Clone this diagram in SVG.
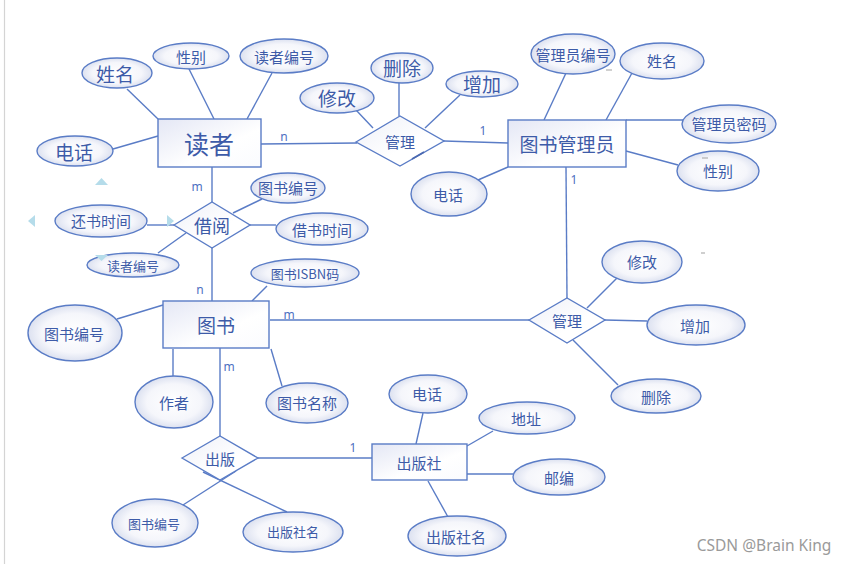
<svg xmlns="http://www.w3.org/2000/svg" width="846" height="564" viewBox="0 0 846 564">
<defs>
<radialGradient id="eg" cx="50%" cy="50%" r="50%">
<stop offset="0" stop-color="#ffffff"/>
<stop offset="0.7" stop-color="#f5f6fb"/>
<stop offset="1" stop-color="#dce1f0"/>
</radialGradient>
<linearGradient id="rg" x1="0" y1="0" x2="1" y2="1">
<stop offset="0" stop-color="#e4e7f5"/>
<stop offset="0.6" stop-color="#ffffff"/>
<stop offset="1" stop-color="#fafbfe"/>
</linearGradient>
<linearGradient id="dg" x1="0" y1="0" x2="1" y2="1">
<stop offset="0" stop-color="#eef0f8"/>
<stop offset="0.6" stop-color="#ffffff"/>
</linearGradient>
</defs>
<style>
.e{fill:url(#eg);stroke:#5a7cc6;stroke-width:1.4}
.r{fill:url(#rg);stroke:#5a7cc6;stroke-width:1.4}
.d{fill:url(#dg);stroke:#5a7cc6;stroke-width:1.4}
.l{stroke:#5a7cc6;stroke-width:1.4;fill:none}
text{font-family:"Noto Sans CJK SC","Noto Sans",sans-serif;fill:#3d5ba8;text-anchor:middle;dominant-baseline:central}
text.c{font-family:"Noto Sans","DejaVu Sans",sans-serif;font-size:12px;fill:#4d6fc2}
.tri{fill:#b5dcea}
.dash{stroke:#b0b0b0;stroke-width:1.2}
</style>
<rect width="846" height="564" fill="#ffffff"/>
<line x1="4.5" y1="0" x2="4.5" y2="564" stroke="#d4d4d4" stroke-width="1.2"/>

<g id="connectors">
<line class="l" x1="127" y1="89" x2="158" y2="119"/>
<line class="l" x1="189" y1="69" x2="214" y2="119"/>
<line class="l" x1="272" y1="73" x2="247" y2="119"/>
<line class="l" x1="113" y1="149" x2="158" y2="136"/>
<line class="l" x1="261" y1="144" x2="357" y2="143"/>
<line class="l" x1="399" y1="83" x2="399" y2="116"/>
<line class="l" x1="356" y1="110" x2="373" y2="128"/>
<line class="l" x1="460" y1="95" x2="425" y2="128"/>
<line class="l" x1="444" y1="141" x2="508" y2="143"/>
<line class="l" x1="566" y1="73" x2="544" y2="120"/>
<line class="l" x1="632" y1="73" x2="606" y2="120"/>
<line class="l" x1="626" y1="120" x2="683" y2="120"/>
<line class="l" x1="626" y1="151" x2="678" y2="165"/>
<line class="l" x1="478" y1="180" x2="508" y2="167"/>
<line class="l" x1="566" y1="167" x2="567" y2="298"/>
<line class="l" x1="212" y1="167" x2="212" y2="202"/>
<line class="l" x1="262" y1="199" x2="233" y2="213"/>
<line class="l" x1="250" y1="225" x2="276" y2="225"/>
<line class="l" x1="147" y1="225" x2="174" y2="225"/>
<line class="l" x1="158" y1="253" x2="186" y2="233"/>
<line class="l" x1="212" y1="248" x2="212" y2="301"/>
<line class="l" x1="267" y1="286" x2="252" y2="301"/>
<line class="l" x1="117" y1="319" x2="163" y2="305"/>
<line class="l" x1="270" y1="320" x2="529" y2="320"/>
<line class="l" x1="173" y1="349" x2="173" y2="377"/>
<line class="l" x1="271" y1="349" x2="282" y2="386"/>
<line class="l" x1="220" y1="348" x2="220" y2="436"/>
<line class="l" x1="617" y1="278" x2="587" y2="308"/>
<line class="l" x1="605" y1="320" x2="647" y2="321"/>
<line class="l" x1="573" y1="340" x2="618" y2="385"/>
<line class="l" x1="258" y1="458" x2="372" y2="458"/>
<line class="l" x1="183" y1="505" x2="236" y2="471"/>
<line class="l" x1="287" y1="512" x2="203" y2="472"/>
<line class="l" x1="423" y1="413" x2="416" y2="444"/>
<line class="l" x1="493" y1="431" x2="467" y2="446"/>
<line class="l" x1="467" y1="474" x2="513" y2="474"/>
<line class="l" x1="428" y1="481" x2="448" y2="517"/>
<text class="c" x="284" y="136">n</text>
<text class="c" x="483" y="130">1</text>
<text class="c" x="197" y="186">m</text>
<text class="c" x="574" y="179">1</text>
<text class="c" x="200" y="289">n</text>
<text class="c" x="289" y="314">m</text>
<text class="c" x="229" y="366">m</text>
<text class="c" x="353" y="447">1</text>
</g>

<g id="reader">
<rect class="r" x="158" y="119" width="103" height="48"/>
<text x="209" y="143" font-size="25">读者</text>
</g>
<g id="reader-name"><ellipse class="e" cx="117" cy="73" rx="35" ry="15"/><text x="115" y="73" font-size="19">姓名</text></g>
<g id="reader-sex"><ellipse class="e" cx="191" cy="56" rx="38" ry="13"/><text x="191" y="56" font-size="15">性别</text></g>
<g id="reader-no"><ellipse class="e" cx="284" cy="56" rx="44" ry="17"/><text x="284" y="56" font-size="15">读者编号</text></g>
<g id="reader-tel"><ellipse class="e" cx="75" cy="151" rx="38" ry="15"/><text x="74" y="151" font-size="19">电话</text></g>

<g id="manage1">
<polygon class="d" points="356,142 400,116 444,141 400,166"/>
<text x="400" y="141" font-size="15">管理</text>
</g>
<g id="m1-del"><ellipse class="e" cx="402" cy="68" rx="31" ry="15"/><text x="402" y="67" font-size="19">删除</text></g>
<g id="m1-mod"><ellipse class="e" cx="337" cy="98" rx="37" ry="15"/><text x="337" y="97" font-size="19">修改</text></g>
<g id="m1-add"><ellipse class="e" cx="482" cy="84" rx="36" ry="13"/><text x="482" y="83" font-size="19">增加</text></g>

<g id="librarian">
<rect class="r" x="508" y="120" width="118" height="47"/>
<text x="567" y="143" font-size="19">图书管理员</text>
</g>
<g id="lib-no"><ellipse class="e" cx="573" cy="54" rx="42" ry="20"/><text x="573" y="54" font-size="15">管理员编号</text></g>
<g id="lib-name"><ellipse class="e" cx="662" cy="61" rx="42" ry="18"/><text x="662" y="60" font-size="15">姓名</text></g>
<g id="lib-pwd"><ellipse class="e" cx="729" cy="124" rx="47" ry="19"/><text x="729" y="123" font-size="15">管理员密码</text></g>
<g id="lib-sex"><ellipse class="e" cx="718" cy="171" rx="41" ry="20"/><text x="718" y="170" font-size="15">性别</text></g>
<g id="lib-tel"><ellipse class="e" cx="449" cy="194" rx="38" ry="22"/><text x="448" y="194" font-size="15">电话</text></g>

<g id="borrow">
<polygon class="d" points="174,225 212,202 250,225 212,248"/>
<text x="212" y="225" font-size="18">借阅</text>
</g>
<g id="b-bookno"><ellipse class="e" cx="288" cy="188" rx="37" ry="15"/><text x="288" y="187" font-size="15">图书编号</text></g>
<g id="b-out"><ellipse class="e" cx="322" cy="229" rx="46" ry="16"/><text x="322" y="229" font-size="15">借书时间</text></g>
<g id="b-ret"><ellipse class="e" cx="101" cy="221" rx="46" ry="16"/><text x="101" y="220" font-size="15">还书时间</text></g>
<g id="b-readerno"><ellipse class="e" cx="133" cy="265" rx="46" ry="12"/><text x="133" y="265" font-size="13">读者编号</text></g>

<g id="book">
<rect class="r" x="163" y="301" width="106" height="47"/>
<text x="216" y="324" font-size="19">图书</text>
</g>
<g id="book-isbn"><ellipse class="e" cx="305" cy="273" rx="54" ry="14"/><text x="305" y="273" font-size="13">图书ISBN码</text></g>
<g id="book-no"><ellipse class="e" cx="75" cy="333" rx="47" ry="28"/><text x="74" y="333" font-size="15">图书编号</text></g>
<g id="book-author"><ellipse class="e" cx="174" cy="402" rx="39" ry="26"/><text x="174" y="402" font-size="15">作者</text></g>
<g id="book-title"><ellipse class="e" cx="307" cy="403" rx="41" ry="20"/><text x="307" y="402" font-size="15">图书名称</text></g>

<g id="manage2">
<polygon class="d" points="529,320 567,298 605,320 567,343"/>
<text x="567" y="320" font-size="15">管理</text>
</g>
<g id="m2-mod"><ellipse class="e" cx="642" cy="262" rx="40" ry="21"/><text x="642" y="261" font-size="15">修改</text></g>
<g id="m2-add"><ellipse class="e" cx="696" cy="325" rx="49" ry="20"/><text x="695" y="325" font-size="15">增加</text></g>
<g id="m2-del"><ellipse class="e" cx="656" cy="396" rx="45" ry="17"/><text x="656" y="396" font-size="15">删除</text></g>

<g id="publish">
<polygon class="d" points="182,458 220,436 258,458 220,480"/>
<text x="220" y="458" font-size="15">出版</text>
</g>
<g id="p-bookno"><ellipse class="e" cx="155" cy="523" rx="43" ry="24"/><text x="154" y="523" font-size="13">图书编号</text></g>
<g id="p-pubname"><ellipse class="e" cx="293" cy="532" rx="50" ry="20"/><text x="293" y="531" font-size="13">出版社名</text></g>

<g id="publisher">
<rect class="r" x="372" y="444" width="95" height="36"/>
<text x="419" y="462" font-size="15">出版社</text>
</g>
<g id="pub-tel"><ellipse class="e" cx="428" cy="394" rx="39" ry="19"/><text x="427" y="393" font-size="15">电话</text></g>
<g id="pub-addr"><ellipse class="e" cx="527" cy="418" rx="48" ry="16"/><text x="526" y="418" font-size="15">地址</text></g>
<g id="pub-zip"><ellipse class="e" cx="559" cy="477" rx="46" ry="18"/><text x="559" y="477" font-size="15">邮编</text></g>
<g id="pub-name"><ellipse class="e" cx="457" cy="536" rx="49" ry="20"/><text x="456" y="536" font-size="15">出版社名</text></g>

<g id="artifacts">
<polygon class="tri" points="95,185 101.5,178 108,185"/>
<polygon class="tri" points="35,215 28,221 35,227"/>
<polygon class="tri" points="167,215 174,221 167,227"/>
<polygon class="tri" points="95,255 108,255 101.5,261"/>
<line class="dash" x1="606" y1="70" x2="612" y2="70"/>
<line class="dash" x1="702" y1="158" x2="708" y2="158"/>
<line class="dash" x1="701" y1="253" x2="705" y2="253"/>
<line x1="412" y1="159" x2="424" y2="152" stroke="#4a68b0" stroke-width="1.6"/>
</g>

<text x="764" y="545" style="font-family:'Noto Sans','DejaVu Sans',sans-serif;font-size:15.5px;fill:#9a9a9a">CSDN @Brain King</text>
</svg>
